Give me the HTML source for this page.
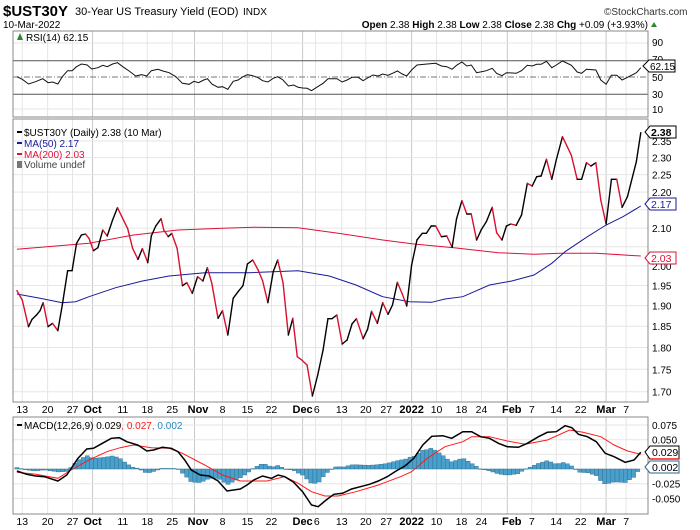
<!DOCTYPE html>
<html><head><meta charset="utf-8"><style>
html,body{margin:0;padding:0;background:#fff}
svg{display:block;font-family:"Liberation Sans",sans-serif}
</style></head><body>
<svg id="s" width="700" height="530" xmlns="http://www.w3.org/2000/svg">
<rect width="700" height="530" fill="#fff"/>
<text x="3" y="16" font-size="15" font-weight="bold">$UST30Y</text>
<text x="75" y="15" font-size="11">30-Year US Treasury Yield (EOD)</text>
<text x="243" y="15" font-size="10">INDX</text>
<text x="604" y="15" font-size="10" fill="#333">©StockCharts.com</text>
<text x="3" y="28" font-size="10">10-Mar-2022</text>
<text x="648" y="28" font-size="10" text-anchor="end"><tspan font-weight="bold">Open</tspan> 2.38 <tspan font-weight="bold">High</tspan> 2.38 <tspan font-weight="bold">Low</tspan> 2.38 <tspan font-weight="bold">Close</tspan> 2.38 <tspan font-weight="bold">Chg</tspan> +0.09 (+3.93%)</text>
<path d="M651 27 l3 -5 l3 5z" fill="#2a8a2a"/>
<g id="g"></g>
</svg>
<script>
const NS="http://www.w3.org/2000/svg",G=document.getElementById('g');
function el(t,a,txt){const e=document.createElementNS(NS,t);for(const k in a)e.setAttribute(k,a[k]);if(txt!==undefined)e.textContent=txt;G.appendChild(e);return e;}
const L=13,R=648,sx=0.445;
function X(z){return z*sx;}
const panels=[[31,117],[119,402],[417,514]];
const wk=[50,107,163,208,276,331,387,437,500,556,610,680,709,768,822,868,925,981,1037,1082,1140,1195,1250,1305,1362,1407];
const mo=[208,437,680,925,1140,1362];
panels.forEach(p=>{
 wk.forEach(w=>el('line',{x1:X(w),x2:X(w),y1:p[0],y2:p[1],stroke:mo.includes(w)?'#c8c8c8':'#e6e6e6','stroke-width':1}));
});
[43,109].forEach(y=>el('line',{x1:L,x2:R,y1:y,y2:y,stroke:'#e6e6e6'}));
el('line',{x1:L,x2:R,y1:60.7,y2:60.7,stroke:'#555'});
el('line',{x1:L,x2:R,y1:94.3,y2:94.3,stroke:'#555'});
el('line',{x1:L,x2:R,y1:77,y2:77,stroke:'#777','stroke-dasharray':'6,2,1,2'});
[[90,46],[70,63],[50,81],[30,98],[10,113]].forEach(a=>el('text',{x:652,y:a[1],'font-size':10},a[0]));
function PY(v){return 141+774.3*(Math.log(2.35)-Math.log(v));}
for(let i=0;i<=13;i++){const v=1.70+i*0.05;const y=PY(v);el('line',{x1:L,x2:R,y1:y,y2:y,stroke:'#e6e6e6'});
 if(Math.abs(v-2.15)>.01&&Math.abs(v-2.05)>.01)el('text',{x:652,y:y+4,'font-size':10},v.toFixed(2));}
[[0.075,425],[0.05,439.7],[0.025,454.4],[0,469],[-0.025,483.7],[-0.05,498.4]].forEach(a=>{el('line',{x1:L,x2:R,y1:a[1],y2:a[1],stroke:'#e6e6e6'});
 if(a[0]!==0&&a[0]!==0.025)el('text',{x:652,y:a[1]+4,'font-size':10},a[0].toFixed(3));});
panels.forEach(p=>el('rect',{x:L,y:p[0],width:R-L,height:p[1]-p[0],fill:'none',stroke:'#888'}));
function pts(a,oy,sy){return a.map(p=>X(p[0]).toFixed(1)+','+(oy+p[1]/sy).toFixed(1)).join(' ');}
const rsi=[[38,230],[50,238],[64,252],[80,245],[96,236],[108,248],[118,246],[130,252],[140,230],[152,212],[162,212],[172,200],[183,192],[196,195],[206,207],[220,203],[231,196],[241,200],[253,192],[264,188],[276,200],[290,213],[305,228],[318,224],[330,228],[340,212],[355,208],[366,213],[380,218],[395,230],[410,250],[425,253],[436,244],[446,248],[458,240],[466,236],[476,252],[490,262],[500,260],[512,268],[524,244],[535,240],[546,230],[556,224],[568,227],[580,233],[590,242],[602,246],[614,235],[624,230],[636,240],[648,258],[660,255],[670,262],[680,264],[690,265],[700,272],[714,260],[726,250],[737,236],[757,236],[769,246],[780,240],[791,232],[805,232],[816,242],[826,234],[838,225],[850,228],[860,222],[872,226],[882,220],[893,213],[904,222],[914,228],[925,210],[937,195],[960,192],[979,190],[992,198],[1004,200],[1016,208],[1026,196],[1038,186],[1049,198],[1059,195],[1071,218],[1082,215],[1093,212],[1106,205],[1116,220],[1128,227],[1138,218],[1160,220],[1172,212],[1185,196],[1196,198],[1206,193],[1216,193],[1228,184],[1240,203],[1250,195],[1264,183],[1284,196],[1297,216],[1307,220],[1318,208],[1339,210],[1350,240],[1362,253],[1374,226],[1386,226],[1398,240],[1410,232],[1430,218],[1440,203]];
el('polyline',{points:pts(rsi,0,3),fill:'none',stroke:'#111','stroke-width':1});
el('text',{x:26,y:41,'font-size':10},'RSI(14) 62.15');
el('path',{d:'M17 40 l3 -7 l3 7z',fill:'#2a8a2a'});
el('path',{d:'M643 66 l6 -6 h26 v12 h-26z',fill:'#fff',stroke:'#000'});
el('text',{x:650,y:70,'font-size':10},'62.15');
const ma200=[[38,388],[200,370],[300,345],[400,330],[500,325],[570,322],[670,323],[760,340],[860,360],[930,372],[1020,383],[1120,398],[1200,403],[1260,400],[1340,400],[1440,408]];
const ma50=[[38,522],[90,535],[140,548],[170,545],[200,530],[260,503],[320,483],[380,468],[460,458],[560,458],[670,452],[740,468],[800,495],[860,530],[920,545],[970,547],[1000,537],[1040,530],[1100,495],[1150,483],[1200,465],[1240,430],[1270,395],[1320,350],[1362,315],[1400,290],[1440,258]];
el('polyline',{points:pts(ma200,120,3),fill:'none',stroke:'#e0103a','stroke-width':1});
el('polyline',{points:pts(ma50,120,3),fill:'none',stroke:'#1a1a9a','stroke-width':1});
const pr=[[38,512],[50,540],[64,620],[72,598],[82,585],[90,572],[97,548],[108,620],[118,610],[130,632],[140,555],[152,452],[162,452],[172,370],[183,345],[192,342],[200,355],[210,392],[220,383],[231,330],[241,348],[253,300],[264,263],[276,296],[287,326],[298,385],[310,418],[320,386],[332,428],[340,348],[350,318],[362,296],[368,330],[378,350],[386,340],[398,385],[410,497],[420,488],[432,520],[444,470],[456,483],[466,443],[476,490],[490,595],[500,572],[512,645],[524,535],[535,515],[546,497],[556,432],[568,420],[580,450],[590,482],[602,548],[614,455],[624,420],[636,488],[648,645],[658,595],[668,710],[678,720],[690,735],[702,828],[714,765],[726,690],[737,596],[746,596],[757,585],[769,672],[780,660],[791,612],[801,596],[816,656],[826,628],[835,574],[848,610],[860,548],[872,583],[882,555],[893,487],[904,522],[914,558],[925,435],[937,360],[949,340],[958,340],[969,318],[979,318],[992,350],[1004,348],[1016,382],[1026,296],[1038,242],[1049,282],[1059,282],[1071,360],[1082,328],[1093,305],[1106,262],[1116,338],[1128,360],[1138,318],[1148,312],[1160,316],[1172,285],[1185,190],[1196,198],[1206,170],[1216,168],[1228,118],[1240,178],[1250,120],[1264,50],[1284,106],[1297,178],[1307,178],[1318,128],[1328,138],[1339,128],[1350,240],[1362,312],[1374,178],[1386,178],[1398,262],[1410,230],[1430,125],[1440,38]];
for(let i=1;i<pr.length;i++){const a=pr[i-1],b=pr[i];el('line',{x1:X(a[0]),y1:120+a[1]/3,x2:X(b[0]),y2:120+b[1]/3,stroke:b[1]>a[1]?'#d8102f':'#000','stroke-width':1.4,'stroke-linecap':'round'});}
el('line',{x1:17,x2:22,y1:132,y2:132,stroke:'#000','stroke-width':2});
el('text',{x:24,y:136,'font-size':10},'$UST30Y (Daily) 2.38 (10 Mar)');
el('line',{x1:17,x2:22,y1:143,y2:143,stroke:'#1a1a9a','stroke-width':2});
el('text',{x:24,y:147,'font-size':10,fill:'#1a1a9a'},'MA(50) 2.17');
el('line',{x1:17,x2:22,y1:154,y2:154,stroke:'#e0103a','stroke-width':2});
el('text',{x:24,y:158,'font-size':10,fill:'#e0103a'},'MA(200) 2.03');
el('rect',{x:17,y:161,width:5,height:7,fill:'#777'});
el('text',{x:24,y:168,'font-size':10,fill:'#444'},'Volume undef');
[[2.38,'#000',132,'bold'],[2.17,'#1a1a9a',204,'normal'],[2.03,'#e0103a',258,'normal']].forEach(a=>{
 el('path',{d:`M645 ${a[2]} l5 -6 h26 v12 h-26z`,fill:'#fff',stroke:a[1]});
 el('text',{x:651,y:a[2]+4,'font-size':10.5,fill:a[1],'font-weight':a[3]},a[0].toFixed(2));});
function xl(y){[['13',50],['20',107],['27',163],['Oct',208,1],['11',276],['18',331],['25',387],['Nov',445,1],['8',500],['15',556],['22',610],['Dec',680,1],['6',712],['13',768],['20',822],['27',868],['2022',925,1],['10',981],['18',1037],['24',1082],['Feb',1150,1],['7',1195],['14',1250],['22',1305],['Mar',1362,1],['7',1407]].forEach(a=>{
 el('text',{x:X(a[1]),y:y,'font-size':a[2]?11:10.5,'font-weight':a[2]?'bold':'normal','text-anchor':'middle'},a[0]);});}
xl(413);xl(525);
const mac=[[38,228],[60,238],[80,243],[100,245],[130,258],[150,240],[175,190],[195,162],[210,160],[230,145],[250,130],[268,128],[285,140],[310,150],[330,168],[345,165],[365,157],[385,160],[400,170],[415,195],[430,225],[450,240],[470,243],[490,258],[510,288],[540,282],[555,270],[570,255],[590,243],[610,250],[625,240],[640,245],[660,262],[680,290],[700,330],[715,335],[730,318],[750,298],[770,295],[790,282],[810,275],[830,268],[850,258],[870,245],[890,228],[910,213],[930,190],[950,150],[970,124],[995,122],[1015,130],[1040,110],[1060,110],[1080,125],[1100,130],[1120,145],[1140,155],[1165,157],[1185,145],[1210,125],[1230,112],[1250,110],[1270,92],[1285,98],[1300,118],[1320,125],[1340,140],[1360,175],[1380,185],[1405,202],[1425,195],[1440,172]];
const sig=[[38,232],[80,238],[130,250],[160,225],[200,195],[240,170],[270,158],[300,150],[340,158],[380,160],[410,175],[460,210],[500,240],[540,258],[600,258],[640,245],[670,265],[700,290],[730,303],[760,303],[800,290],[850,270],[900,245],[925,230],[960,190],[1000,155],[1040,140],[1060,125],[1100,125],[1140,138],[1180,148],[1230,135],[1280,105],[1310,112],[1350,125],[1380,150],[1410,168],[1440,178]];
function interp(a,x){for(let i=1;i<a.length;i++)if(x<=a[i][0]){const p=a[i-1],q=a[i];return p[1]+(q[1]-p[1])*(x-p[0])/(q[0]-p[0]);}return a[a.length-1][1];}
const z0=222;
for(let x=38;x<=1440;x+=9.3){const d=(interp(sig,x)-interp(mac,x))*1.1;const y1=395+Math.min(z0,z0-d)/3,h=Math.abs(d)/3;
 el('rect',{x:X(x)-2,y:y1,width:4.1,height:Math.max(h,0.5),fill:'#4aa0cc',stroke:'#2a6a8a','stroke-width':0.4});}
el('polyline',{points:pts(sig,395,3),fill:'none',stroke:'#ff1a1a','stroke-width':1});
el('polyline',{points:pts(mac,395,3),fill:'none',stroke:'#000','stroke-width':1.5});
el('line',{x1:17,x2:22,y1:425,y2:425,stroke:'#000','stroke-width':2});
const t=el('text',{x:24,y:429,'font-size':10});
t.innerHTML='MACD(12,26,9) 0.029<tspan fill="#ff1a1a">, 0.027</tspan><tspan fill="#2a8ac0">, 0.002</tspan>';
el('path',{d:'M645 452 l5 -6 h29 v13 h-29z',fill:'#fff',stroke:'#000'});
el('line',{x1:650,x2:679,y1:459,y2:459,stroke:'#ff1a1a','stroke-width':1.5});
el('text',{x:652,y:456,'font-size':10.5},'0.029');
el('path',{d:'M645 467 l5 -6 h29 v12 h-29z',fill:'#fff',stroke:'#2a6a8a'});
el('text',{x:652,y:471,'font-size':10.5},'0.002');
</script>
</body></html>
